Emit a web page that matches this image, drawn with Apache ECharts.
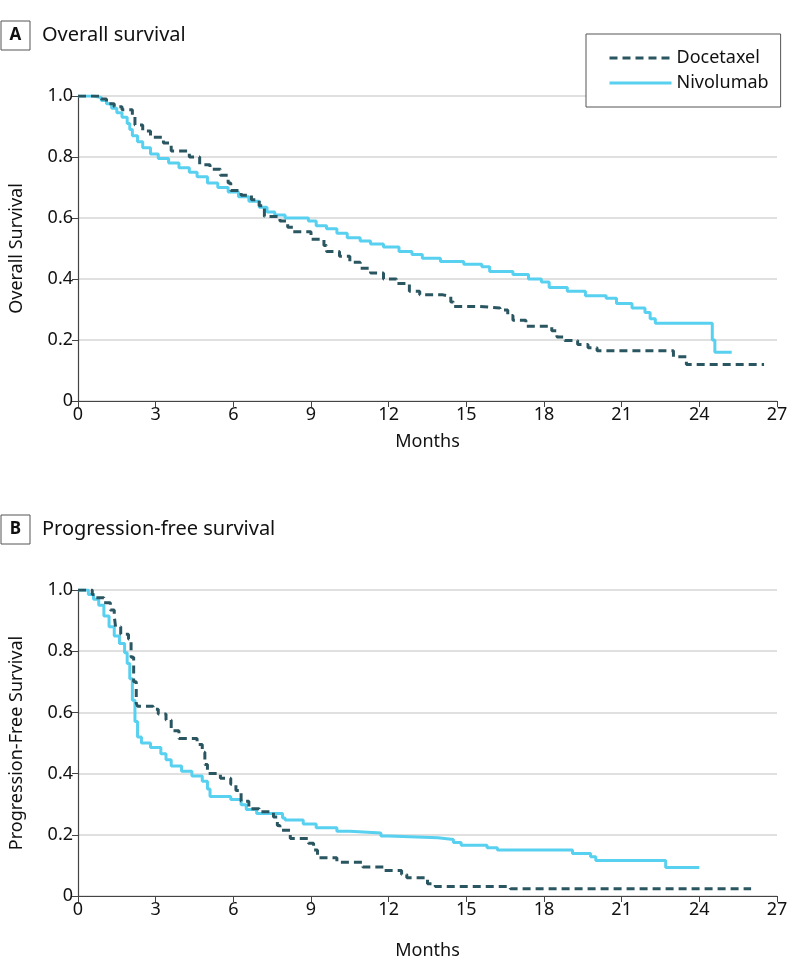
<!DOCTYPE html>
<html>
<head>
<meta charset="utf-8">
<script src="https://cdn.jsdelivr.net/npm/echarts@6/dist/echarts.min.js"></script>
<style>
  html, body { margin: 0; padding: 0; background: #fff; }
  #main { width: 798px; height: 980px; }
</style>
</head>
<body>
<div id="main"></div>
<script>
  // [month, survival] – value drops to survival at that month
  var osDocetaxel = [[0,1.0],[0.9,0.99],[1.1,0.975],[1.4,0.965],[1.7,0.955],[2.1,0.935],[2.2,0.905],[2.5,0.885],[2.8,0.865],[3.3,0.846],[3.6,0.82],[4.3,0.8],[4.7,0.775],[5.1,0.76],[5.5,0.74],[5.8,0.715],[5.9,0.69],[6.3,0.675],[6.7,0.66],[7.0,0.64],[7.2,0.605],[7.8,0.59],[8.1,0.57],[8.3,0.555],[9.0,0.53],[9.5,0.51],[9.6,0.49],[10.1,0.475],[10.5,0.455],[10.9,0.435],[11.3,0.42],[11.8,0.4],[12.3,0.385],[12.8,0.36],[13.2,0.348],[14.1,0.342],[14.4,0.325],[14.5,0.31],[15.5,0.305],[16.3,0.298],[16.6,0.28],[16.8,0.265],[17.3,0.245],[18.3,0.23],[18.5,0.21],[18.8,0.198],[19.3,0.185],[19.7,0.175],[20.05,0.165],[23.0,0.145],[23.5,0.12],[26.5,0.12]];
  var osNivolumab = [[0,1.0],[0.6,0.995],[0.9,0.985],[1.1,0.975],[1.3,0.96],[1.5,0.945],[1.7,0.93],[1.9,0.91],[2.0,0.89],[2.1,0.87],[2.3,0.85],[2.5,0.83],[2.8,0.81],[3.1,0.795],[3.5,0.78],[3.9,0.765],[4.3,0.75],[4.6,0.735],[5.0,0.715],[5.4,0.7],[5.8,0.685],[6.2,0.67],[6.6,0.655],[7.0,0.635],[7.3,0.62],[7.6,0.61],[8.0,0.6],[8.9,0.59],[9.2,0.575],[9.6,0.565],[10.0,0.55],[10.4,0.535],[10.9,0.525],[11.3,0.515],[11.8,0.505],[12.4,0.49],[12.9,0.48],[13.3,0.468],[14.0,0.457],[14.9,0.448],[15.6,0.44],[15.9,0.425],[16.8,0.415],[17.4,0.4],[17.9,0.39],[18.2,0.372],[18.9,0.36],[19.6,0.345],[20.4,0.337],[20.8,0.32],[21.4,0.305],[21.9,0.29],[22.1,0.27],[22.3,0.255],[24.5,0.2],[24.6,0.16],[25.25,0.16]];
  var pfsDocetaxel = [[0,1.0],[0.55,0.985],[0.7,0.975],[1.0,0.958],[1.25,0.935],[1.4,0.915],[1.45,0.88],[1.65,0.855],[1.95,0.84],[2.05,0.78],[2.15,0.7],[2.25,0.63],[2.3,0.62],[2.9,0.61],[3.1,0.595],[3.4,0.575],[3.6,0.54],[3.9,0.515],[4.6,0.495],[4.8,0.47],[4.9,0.43],[5.0,0.4],[5.5,0.385],[5.9,0.365],[6.1,0.345],[6.3,0.31],[6.6,0.285],[7.0,0.275],[7.55,0.258],[7.7,0.23],[7.8,0.215],[8.2,0.188],[8.9,0.172],[9.1,0.15],[9.25,0.125],[10.0,0.11],[11.0,0.095],[11.8,0.083],[12.5,0.07],[12.7,0.06],[13.5,0.04],[13.8,0.031],[16.7,0.024],[26.0,0.024]];
  var pfsNivolumab = [[0,1.0],[0.4,0.985],[0.6,0.97],[0.8,0.95],[1.0,0.915],[1.2,0.88],[1.4,0.85],[1.6,0.825],[1.8,0.795],[1.9,0.76],[2.0,0.71],[2.1,0.64],[2.2,0.57],[2.3,0.52],[2.45,0.5],[2.8,0.485],[3.2,0.465],[3.4,0.445],[3.6,0.425],[4.0,0.408],[4.4,0.392],[4.8,0.375],[5.0,0.35],[5.1,0.325],[5.9,0.315],[6.3,0.298],[6.5,0.283],[6.9,0.27],[7.9,0.255],[8.0,0.248],[8.7,0.235],[9.2,0.223],[10.0,0.212],[10.5,0.206],[11.7,0.196],[12.0,0.19],[13.9,0.185],[14.5,0.175],[14.8,0.166],[15.8,0.158],[16.2,0.15],[19.1,0.139],[19.8,0.128],[20.0,0.116],[22.7,0.093],[24.0,0.093]];
  var xTicks = [0, 3, 6, 9, 12, 15, 18, 21, 24, 27];
  var yTicks = [0, 0.2, 0.4, 0.6, 0.8, 1.0];

  var font = 'Noto Sans';
  var docColor = '#2a5661';
  var nivoColor = '#58d0ef';

  function xAxisFor(idx, gap) {
    return {
      type: 'value', gridIndex: idx,
      min: xTicks[0], max: xTicks[xTicks.length - 1], interval: 3,
      name: 'Months', nameLocation: 'middle', nameGap: gap,
      nameTextStyle: { fontFamily: font, fontSize: 18, color: '#111' },
      axisLine: { lineStyle: { color: '#444', width: 1.2 } },
      axisTick: { length: 6, lineStyle: { color: '#444' } },
      axisLabel: { fontFamily: font, fontSize: 18, color: '#111', margin: 5 },
      splitLine: { show: false }
    };
  }
  function yAxisFor(idx, name) {
    return {
      type: 'value', gridIndex: idx,
      min: yTicks[0], max: yTicks[yTicks.length - 1], interval: 0.2,
      name: name, nameLocation: 'middle', nameGap: 52,
      nameTextStyle: { fontFamily: font, fontSize: 18, color: '#111' },
      axisLine: { show: true, lineStyle: { color: '#444', width: 1.2 } },
      axisTick: { show: true, length: 6, lineStyle: { color: '#444' } },
      axisLabel: { fontFamily: font, fontSize: 18, color: '#111', margin: 5,
        formatter: function (v) { return v === 0 ? '0' : v.toFixed(1); } },
      splitLine: { lineStyle: { color: '#d6d6d6', width: 1.5 } }
    };
  }
  function kmSeries(name, data, idx) {
    var dashed = name === 'Docetaxel';
    return {
      name: name, type: 'line', step: 'end', data: data,
      xAxisIndex: idx, yAxisIndex: idx,
      symbol: 'none', z: dashed ? 3 : 2,
      lineStyle: { color: dashed ? docColor : nivoColor, width: 3,
        type: dashed ? [8, 5] : 'solid' },
      itemStyle: { color: dashed ? docColor : nivoColor },
      animation: false
    };
  }
  function panelTitle(letter, text, top) {
    return {
      text: '{box|' + letter + '}{txt|' + text + '}',
      left: 1, top: top, padding: 0,
      textStyle: {
        fontWeight: 'normal',
        rich: {
          box: { fontFamily: font, fontWeight: 'bold', fontSize: 17, color: '#111',
            borderColor: '#555', borderWidth: 1, width: 29, height: 29,
            align: 'center', lineHeight: 29 },
          txt: { fontFamily: font, fontWeight: 'normal', fontSize: 20, color: '#111',
            padding: [0, 0, 0, 12] }
        }
      }
    };
  }

  var chart = echarts.init(document.getElementById('main'));
  chart.setOption({
    backgroundColor: '#fff',
    animation: false,
    title: [panelTitle('A', 'Overall survival', 21), panelTitle('B', 'Progression-free survival', 515)],
    legend: {
      data: ['Docetaxel', 'Nivolumab'],
      orient: 'vertical', left: 586, top: 34,
      padding: [15, 12, 15, 22], itemGap: 7,
      itemWidth: 62, itemHeight: 18,
      itemStyle: { opacity: 0 },
      lineStyle: { width: 3 },
      backgroundColor: '#fff', borderColor: '#555', borderWidth: 1,
      textStyle: { fontFamily: font, fontSize: 18, color: '#111' }
    },
    grid: [
      { left: 77, top: 96, width: 700, height: 305 },
      { left: 77, top: 590, width: 700, height: 306 }
    ],
    xAxis: [xAxisFor(0, 32), xAxisFor(1, 46)],
    yAxis: [yAxisFor(0, 'Overall Survival'), yAxisFor(1, 'Progression-Free Survival')],
    series: [
      kmSeries('Nivolumab', osNivolumab, 0),
      kmSeries('Docetaxel', osDocetaxel, 0),
      kmSeries('Nivolumab', pfsNivolumab, 1),
      kmSeries('Docetaxel', pfsDocetaxel, 1)
    ]
  });
</script>
</body>
</html>
